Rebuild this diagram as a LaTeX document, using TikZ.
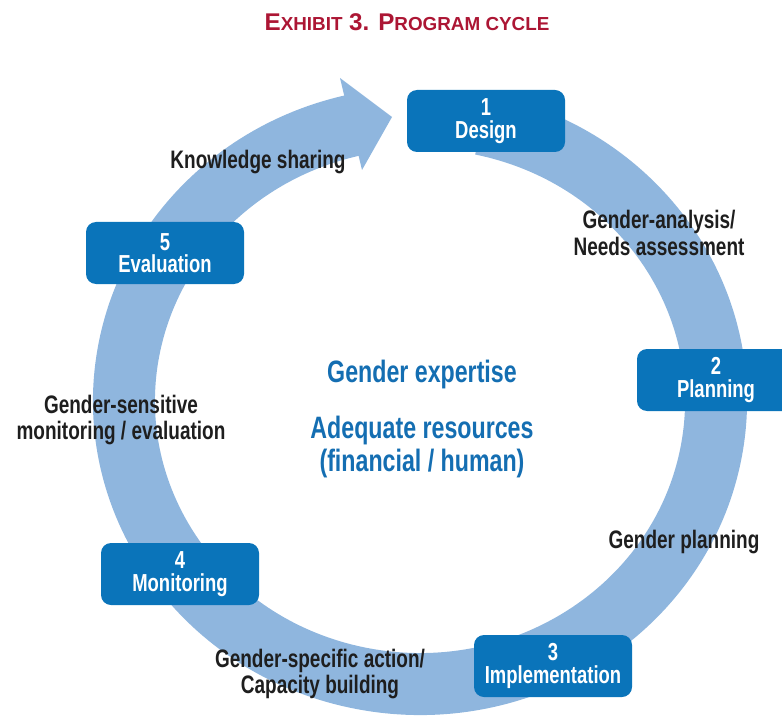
\documentclass[tikz,border=0pt]{standalone}
\usepackage{fontspec}
\setmainfont{Liberation Sans}[FakeStretch=0.75]
\newfontfamily\titlefont{Liberation Sans}
\definecolor{ringblue}{RGB}{143,182,222}
\definecolor{boxblue}{RGB}{10,116,186}
\definecolor{coreblue}{RGB}{20,110,178}
\definecolor{titlered}{RGB}{172,22,52}
\definecolor{labelgray}{RGB}{30,30,30}
\tikzset{
  stagebox/.style={fill=boxblue, rounded corners=0.25cm, minimum width=3.95cm, minimum height=1.55cm,
    inner sep=0pt, text=white, align=center, font=\bfseries\fontsize{17.5}{16}\selectfont},
  phaselabel/.style={text=labelgray, align=center, font=\bfseries\fontsize{18}{19}\selectfont},
  corelabel/.style={text=coreblue, align=center, font=\bfseries\fontsize{22}{23.5}\selectfont}
}

\begin{document}
\begin{tikzpicture}
        \useasboundingbox (0,0) rectangle (19.55,17.975);

        % Title
        \node[text=titlered, font=\titlefont\bfseries\fontsize{17.2}{17}\selectfont] (title) at (10.175,17.425)
            {E{\fontsize{13.4}{13}\selectfont XHIBIT} 3. P{\fontsize{13.4}{13}\selectfont ROGRAM CYCLE}};

        % Cycle ring
        \coordinate (hub) at (10.5,7.95);
        \draw[ringblue, line width=1.55cm] (hub) ++(78:7.4 and 7.075)
            arc[start angle=78, end angle=-257, x radius=7.4, y radius=7.075];
        \fill[ringblue] (8.5,16.025) -- (9.8,15.05) -- (9.05,13.725) -- cycle;

        % Stages
        \node[stagebox] (design) at (12.15,14.95) {1\\Design};
        \node[stagebox] (planning) at (17.9,8.475) {2\\Planning};
        \node[stagebox] (implementation) at (13.825,1.325) {3\\Implementation};
        \node[stagebox] (monitoring) at (4.5,3.625) {4\\Monitoring};
        \node[stagebox] (evaluation) at (4.125,11.65) {5\\Evaluation};

        % Transitions
        \node[phaselabel] (analysis) at (16.475,12.15) {Gender-analysis/\\Needs assessment};
        \node[phaselabel] (genplan) at (17.1,4.425) {Gender planning};
        \node[phaselabel] (action) at (8.0,1.125) {Gender-specific action/\\Capacity building};
        \node[phaselabel] (sensitive) at (3.025,7.475) {Gender-sensitive\\monitoring / evaluation};
        \node[phaselabel] (sharing) at (6.45,13.925) {Knowledge sharing};

        % Core requirements
        \node[corelabel] (expertise) at (10.55,8.6) {Gender expertise};
        \node[corelabel] (resources) at (10.55,6.81) {Adequate resources\\(financial / human)};
    \end{tikzpicture}
\end{document}
